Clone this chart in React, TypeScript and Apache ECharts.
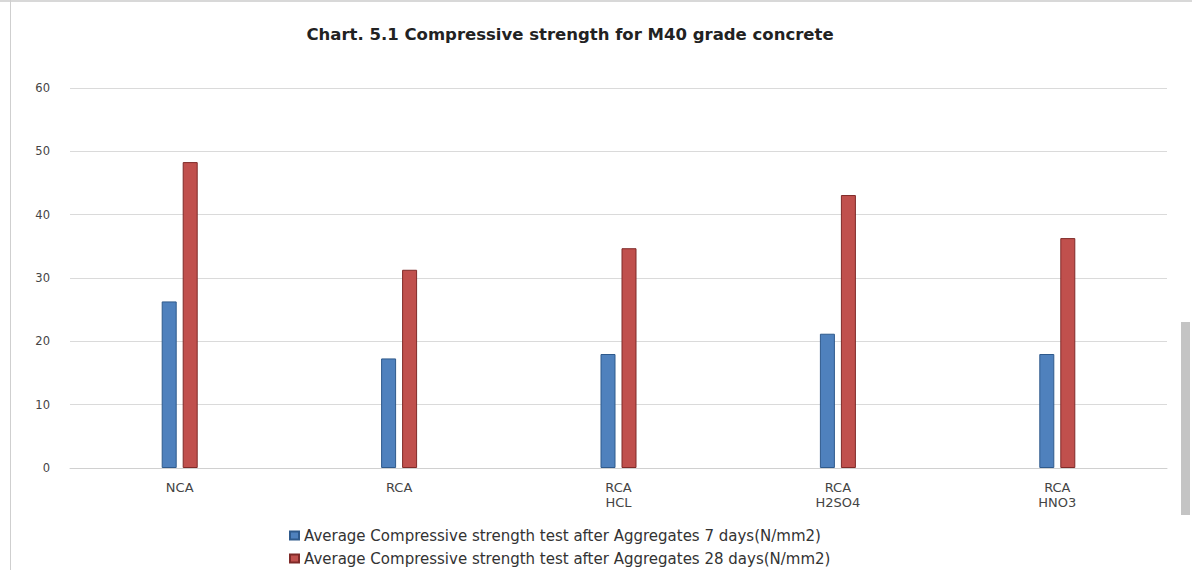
import React, { useEffect, useRef } from "react";
import * as echarts from "echarts";

const categories = ["NCA", "RCA", "RCA\nHCL", "RCA\nH2SO4", "RCA\nHNO3"];
const days7 = [26.3, 17.3, 18.0, 21.2, 18.0];
const days28 = [48.3, 31.3, 34.7, 43.1, 36.3];
const seriesNames = [
  "Average Compressive strength test after Aggregates 7 days(N/mm2)",
  "Average Compressive strength test after Aggregates 28 days(N/mm2)",
];
const titleText = "Chart. 5.1 Compressive strength for M40 grade concrete";

export default function App() {
  const ref = useRef<HTMLDivElement>(null);
  useEffect(() => {
    document.body.style.margin = "0";
    const chart = echarts.init(ref.current!, null, { renderer: "svg" });
    const font = "'DejaVu Sans', 'Open Sans', sans-serif";
    const legendBase = {
      orient: "horizontal",
      left: 284,
      itemWidth: 9,
      itemHeight: 8,
      icon: "rect",
      textStyle: { fontFamily: font, fontSize: 15, color: "#333" },
    };
    chart.setOption({
      animation: false,
      backgroundColor: "#ffffff",
      title: {
        text: titleText,
        left: 565,
        textAlign: "center",
        top: 21,
        textStyle: { fontFamily: font, fontSize: 16.5, fontWeight: "bold", color: "#222" },
      },
      legend: [
        { ...legendBase, top: 523, data: [seriesNames[0]] },
        { ...legendBase, top: 546, data: [seriesNames[1]] },
      ],
      grid: { left: 70, right: 25, top: 88, bottom: 102, containLabel: false },
      xAxis: {
        type: "category",
        data: categories,
        axisLine: { show: true, lineStyle: { color: "#d0d0d0" } },
        axisTick: { show: false },
        axisLabel: { fontFamily: font, fontSize: 13, color: "#444", margin: 12, lineHeight: 15 },
      },
      yAxis: {
        type: "value",
        min: 0,
        max: 60,
        interval: 10,
        axisLine: { show: false },
        axisTick: { show: false },
        splitLine: { lineStyle: { color: "#dadada" } },
        axisLabel: { fontFamily: font, fontSize: 11.5, color: "#444", margin: 20 },
      },
      series: [
        {
          name: seriesNames[0],
          type: "bar",
          data: days7,
          barWidth: 15,
          barGap: "40%",
          itemStyle: { color: "#4F81BD", borderColor: "#2f5a8c", borderWidth: 1 },
        },
        {
          name: seriesNames[1],
          type: "bar",
          data: days28,
          barWidth: 15,
          barGap: "40%",
          itemStyle: { color: "#C0504D", borderColor: "#7f2a28", borderWidth: 1 },
        },
      ],
      graphic: [
        { type: "rect", shape: { x: 0, y: 0, width: 1192, height: 2 }, style: { fill: "#d8d8d8" } },
        { type: "line", shape: { x1: 10.5, y1: 0, x2: 10.5, y2: 570 }, style: { stroke: "#cfcfcf", lineWidth: 1 } },
        { type: "rect", shape: { x: 1181, y: 322, width: 9, height: 193 }, style: { fill: "#c4c4c4" } },
      ],
    });
    return () => chart.dispose();
  }, []);
  return <div ref={ref} style={{ width: 1192, height: 570 }} />;
}
